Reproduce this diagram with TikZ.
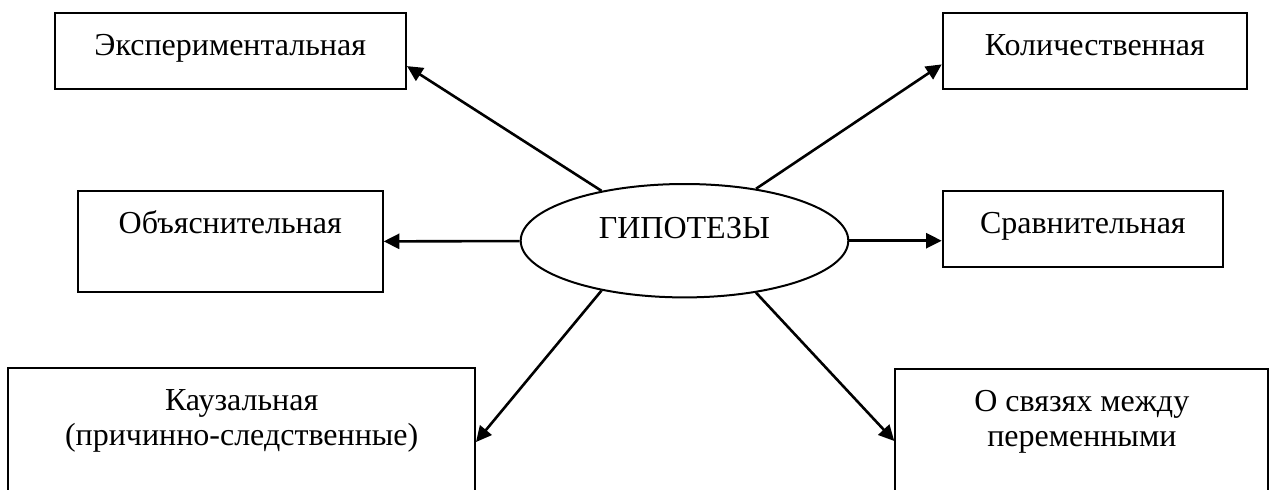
\documentclass[tikz,border=0pt]{standalone}
\usepackage{fontspec}
\setmainfont{Liberation Serif}
\usetikzlibrary{arrows.meta, shapes.geometric}
\tikzset{
    kind/.style={
        draw, line width=1pt, inner sep=0pt, anchor=north west, align=center,
        text height=21.2pt, font=\fontsize{16}{17.5}\selectfont
    },
    twolines/.style={text height=38.7pt, text depth=100pt},
    hypo/.style={
        draw, ellipse, line width=1pt, inner sep=0pt,
        minimum width=163.8pt, minimum height=56.7pt,
        text height=12pt, text depth=14.4pt, font=\fontsize{16}{17.5}\selectfont
    },
    toKind/.style={-{Triangle[length=7.8pt,width=7.5pt]}, line width=1.3pt}
}

\begin{document}
\begin{tikzpicture}[x=0.5pt, y=-0.5pt]
    \clip (0,0) rectangle (1269,489);
    \node[hypo] (hyp) at (684.5,240.7) {ГИПОТЕЗЫ};
    \node[kind, minimum width=175.75pt, text depth=16.9pt] (exper) at (53.5,12) {Экспериментальная};
    \node[kind, minimum width=152.15pt, text depth=16.9pt] (kolich) at (941.7,12) {Количественная};
    \node[kind, minimum width=152.5pt, text depth=29.5pt] (obyasn) at (76.7,190) {Объяснительная};
    \node[kind, minimum width=140.15pt, text depth=17pt] (sravn) at (941.7,190) {Сравнительная};
    \node[kind, twolines, minimum width=233.35pt] (kauz) at (7.3,367.3) {Каузальная\\(причинно-следственные)};
    \node[kind, twolines, minimum width=186.5pt] (svyaz) at (894.3,368.3) {О связях между\\переменными};
    % arrows from the ellipse
    \draw[toKind] (hyp.149.4) -- ([yshift=-7.5pt]exper.east);
    \draw[toKind] (hyp.36.1) -- ([yshift=-6.65pt]kolich.west);
    \draw[toKind] (hyp) -- (obyasn);
    \draw[toKind] (hyp.east) -- (hyp.east -| sravn.west);
    \draw[toKind] (hyp.211.3) -- ([yshift=-37.35pt]kauz.north east);
    \draw[toKind] (hyp.324.1) -- ([yshift=-36.35pt]svyaz.north west);
\end{tikzpicture}
\end{document}
